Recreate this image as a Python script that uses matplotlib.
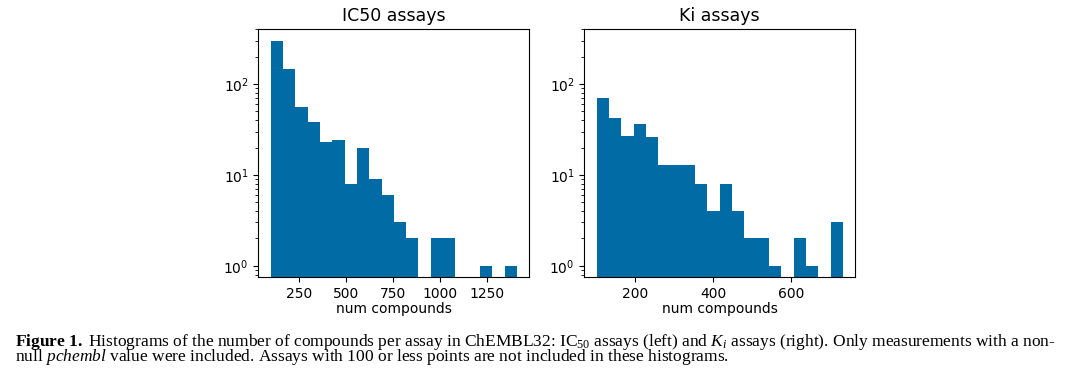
import numpy as np
import matplotlib
matplotlib.use('Agg')
import matplotlib.pyplot as plt

# counts per bin (20 bins each)
ic50_counts = [301, 147, 56, 38, 23, 24, 8, 20, 9, 6, 3, 2, 0, 2, 2, 0, 0, 1, 0, 1]
ic50_range = (101, 1407)
ki_counts = [71, 42, 27, 36, 26, 13, 13, 13, 8, 4, 8, 4, 2, 2, 1, 0, 2, 1, 0, 3]
ki_range = (101, 734)
n_bins = 20

titles = ['IC50 assays', 'Ki assays']
xlabel = 'num compounds'

caption = (r'$\mathbf{Figure\ 1.}$ Histograms of the number of compounds per assay in '
           r'ChEMBL32: IC$_{50}$ assays (left) and $K_i$ assays (right). Only measurements with a non-'
           '\n'
           r'null $\mathit{pchembl}$ value were included. Assays with 100 or less points '
           r'are not included in these histograms.')

plt.rcParams['mathtext.fontset'] = 'custom'
plt.rcParams['mathtext.rm'] = 'Liberation Serif'
plt.rcParams['mathtext.it'] = 'Liberation Serif:italic'
plt.rcParams['mathtext.bf'] = 'Liberation Serif:bold'

color = '#006BA4'


def draw_hist(ax, counts, rng, title):
    edges = np.linspace(rng[0], rng[1], n_bins + 1)
    ax.hist(edges[:-1], bins=edges, weights=counts, log=True, color=color)
    ax.set_title(title, fontsize=12.5)
    ax.set_xlabel(xlabel, fontsize=10, labelpad=1)
    ax.tick_params(labelsize=10)


fig = plt.figure(figsize=(10.8, 3.78), dpi=100)
ax1 = fig.add_axes([0.2392, 0.2672, 0.2509, 0.6553])
ax2 = fig.add_axes([0.5410, 0.2672, 0.2509, 0.6553], sharey=ax1)

draw_hist(ax1, ic50_counts, ic50_range, titles[0])
draw_hist(ax2, ki_counts, ki_range, titles[1])

fig.text(0.0139, 0.0442, caption, family='Liberation Serif', fontsize=12.5,
         va='baseline', linespacing=0.64)

fig.savefig('out.png', dpi=100)
